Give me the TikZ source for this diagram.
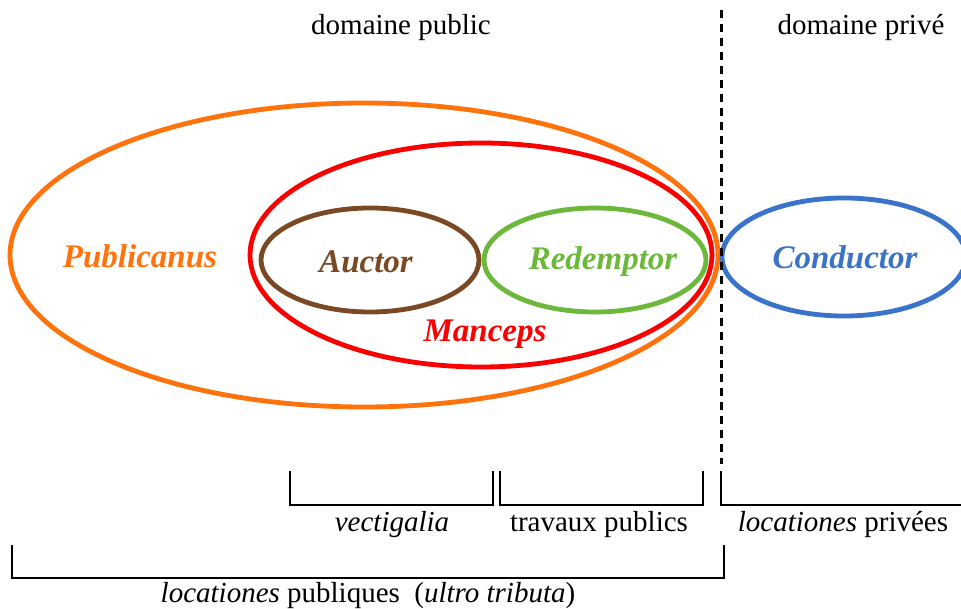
\documentclass[tikz,border=0pt]{standalone}
\usepackage{fontspec}
\setmainfont{Liberation Serif}
\usetikzlibrary{positioning}
\definecolor{orangepub}{RGB}{255,114,12}
\definecolor{redman}{RGB}{250,0,0}
\definecolor{brownauc}{RGB}{122,72,34}
\definecolor{greenred}{RGB}{108,184,58}
\definecolor{bluecon}{RGB}{58,115,202}
\begin{document}
\begin{tikzpicture}[x=1pt,y=-1pt,
    ring/.style={line width=4.8pt},
    who/.style={font=\fontsize{33}{38}\selectfont\bfseries\itshape},
    lbl/.style={font=\fontsize{29}{34}\selectfont},
    brk/.style={line width=1.3pt}]
        \useasboundingbox (0,0) rectangle (961,609);

        % ellipses
        \draw[ring, orangepub] (364,255) ellipse (354pt and 152pt);
        \draw[ring, redman] (481,255) ellipse (231pt and 112pt);
        \draw[ring, brownauc] (370,260) ellipse (109pt and 52pt);
        \draw[ring, greenred] (595,260) ellipse (111pt and 52pt);
        \draw[ring, bluecon] (844,257) ellipse (122pt and 59pt);

        % public / private border
        \draw[line width=3pt, dash pattern=on 8pt off 6pt] (721,10) -- (721,464);

        \node[lbl] (dpub) at (401,28) {domaine public};
        \node[lbl] (dpriv) at (861,28) {domaine privé};

        \node[who, text=orangepub] (publicanus) at (140,256) {Publicanus};
        \node[who, text=brownauc] (auctor) at (366,262) {Auctor};
        \node[who, text=greenred] (redemptor) at (603,262) {Redemptor};
        \node[who, text=redman] (manceps) at (485,334) {Manceps};
        \node[who, text=bluecon] (conductor) at (845,257) {Conductor};

        % brackets
        \draw[brk] (290,471) |- (493,505) -- (493,471);
        \draw[brk] (500,471) |- (703,505) -- (703,471);
        \draw[brk] (721,471) |- (961,505);
        \draw[brk] (12,545) |- (724,578) -- (724,545);

        \node[lbl] (vect) at (392,525) {\textit{vectigalia}};
        \node[lbl] (trav) at (599,525) {travaux publics};
        \node[lbl] (lpriv) at (843,525) {\textit{locationes} privées};
        \node[lbl] (lpub) at (368,596) {\textit{locationes} publiques~~(\textit{ultro tributa})};
    \end{tikzpicture}
\end{document}
